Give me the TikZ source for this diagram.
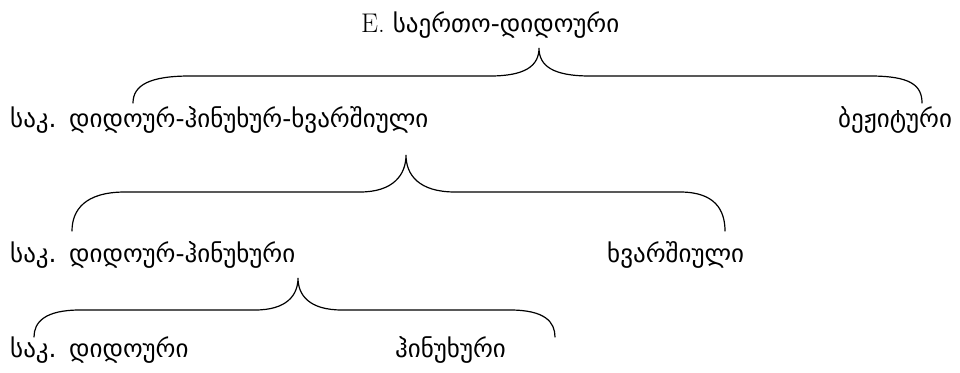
\documentclass[tikz,border=0pt]{standalone}
\usepackage{fontspec}
\newfontfamily\geo{DejaVu Sans}
\begin{document}
\begin{tikzpicture}[x=1pt,y=-1pt,
  lbl/.style={anchor=base west,inner sep=0pt,font=\geo\fontsize{25}{30}\selectfont},
  brace/.style={line width=1.2pt,line cap=round}]
\useasboundingbox (0,0) rectangle (960,372);
% labels
\node[lbl] (root) at (361,32) {{\rmfamily\fontsize{27}{30}\selectfont E.} საერთო-დიდოური};
\node[lbl] (ddk) at (10,127) {საკ.\hspace{0.5em}დიდოურ-ჰინუხურ-ხვარშიული};
\node[lbl] (bez) at (838,127) {ბეჟიტური};
\node[lbl] (dh) at (10,262) {საკ.\hspace{0.5em}დიდოურ-ჰინუხური};
\node[lbl] (xv) at (607,262) {ხვარშიული};
\node[lbl] (dd) at (10,357) {საკ.\hspace{0.5em}დიდოური};
\node[lbl] (hi) at (395,357) {ჰინუხური};
% brace 1
\coordinate (t1) at (539,48);
\draw[brace] (133,103) .. controls (133,85) and (150,76) .. (190,76) -- (490,76)
  .. controls (525,76) and (539,66) .. (t1)
  .. controls (539,66) and (553,76) .. (590,76) -- (870,76)
  .. controls (910,76) and (922,85) .. (922,103);
% brace 2
\coordinate (t2) at (406,155);
\draw[brace] (72,231) .. controls (72,210) and (85,192) .. (125,192) -- (360,192)
  .. controls (393,192) and (406,175) .. (t2)
  .. controls (406,175) and (419,192) .. (455,192) -- (680,192)
  .. controls (715,192) and (725,210) .. (725,231);
% brace 3
\coordinate (t3) at (298,278);
\draw[brace] (34,337) .. controls (34,322) and (45,310) .. (80,310) -- (255,310)
  .. controls (287,310) and (298,295) .. (t3)
  .. controls (298,295) and (309,310) .. (342,310) -- (510,310)
  .. controls (545,310) and (555,322) .. (555,337);
\end{tikzpicture}
\end{document}
